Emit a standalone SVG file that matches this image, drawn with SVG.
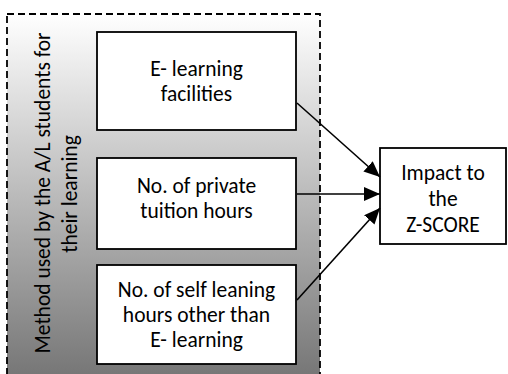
<svg xmlns="http://www.w3.org/2000/svg" width="508" height="374" viewBox="0 0 508 374">
  <style>
    .box { fill: #ffffff; stroke: #000000; stroke-width: 1.8; }
    .txt { font-family: Carlito, Calibri, Lato, "Liberation Sans", sans-serif; font-size: 21.5px; fill: #000000; text-anchor: middle; }
    .edge { stroke: #000000; stroke-width: 1.6; fill: none; marker-end: url(#arrow); }
  </style>
  <defs>
    <linearGradient id="grad" x1="0" y1="0" x2="0" y2="1">
      <stop offset="0" stop-color="#ffffff"/>
      <stop offset="1" stop-color="#747474"/>
    </linearGradient>
    <marker id="arrow" markerUnits="userSpaceOnUse" markerWidth="17" markerHeight="15" refX="16" refY="7" orient="auto">
      <path d="M0,0 L16,7 L0,14 z" fill="#000000"/>
    </marker>
  </defs>

  <g id="group-method">
    <rect x="7" y="14" width="313" height="368" fill="url(#grad)" stroke="#000000" stroke-width="1.8" stroke-dasharray="7 4"/>
    <text class="txt" transform="translate(50,193) rotate(-90)">Method used by the A/L students for</text>
    <text class="txt" transform="translate(77,194) rotate(-90)">their learning</text>
  </g>

  <g id="node-elearning">
    <rect class="box" x="97" y="32" width="199" height="98"/>
    <text class="txt" x="196.5" y="76">E- learning</text>
    <text class="txt" x="196.5" y="101">facilities</text>
  </g>

  <g id="node-tuition">
    <rect class="box" x="97" y="158" width="199" height="91"/>
    <text class="txt" x="196.5" y="193">No. of private</text>
    <text class="txt" x="196.5" y="218">tuition hours</text>
  </g>

  <g id="node-self">
    <rect class="box" x="97" y="265" width="199" height="99"/>
    <text class="txt" x="196.5" y="297">No. of self leaning</text>
    <text class="txt" x="196.5" y="322">hours other than</text>
    <text class="txt" x="196.5" y="347">E- learning</text>
  </g>

  <g id="node-impact">
    <rect class="box" x="380" y="148" width="126" height="96"/>
    <text class="txt" x="443" y="180">Impact to</text>
    <text class="txt" x="443" y="206">the</text>
    <text class="txt" x="443" y="232">Z-SCORE</text>
  </g>

  <g id="connectors">
    <line class="edge" x1="297" y1="103" x2="380" y2="177"/>
    <line class="edge" x1="297" y1="194" x2="380" y2="194"/>
    <line class="edge" x1="297" y1="300" x2="380" y2="208"/>
  </g>
</svg>
